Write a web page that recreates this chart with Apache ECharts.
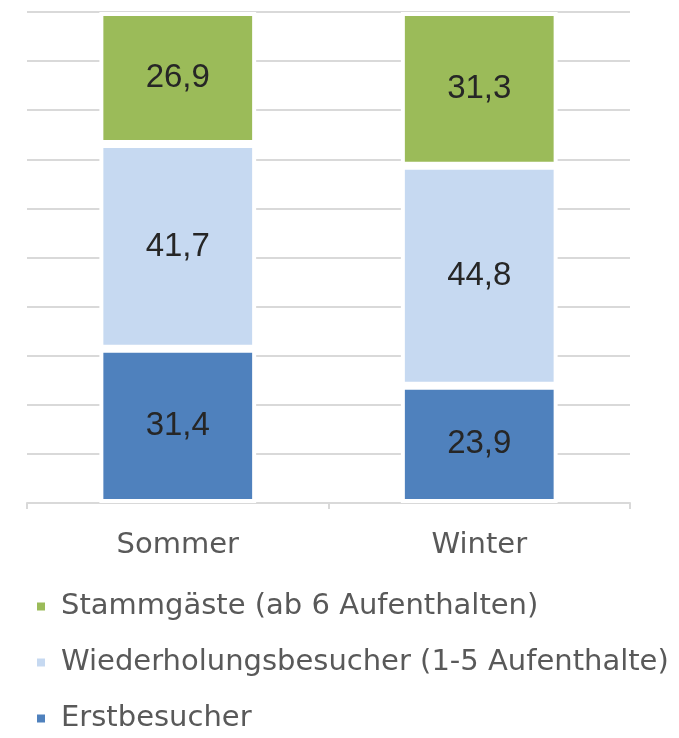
<!DOCTYPE html>
<html>
<head>
<meta charset="utf-8">
<script src="https://cdn.jsdelivr.net/npm/echarts@6/dist/echarts.min.js"></script>
<style>html,body{margin:0;padding:0;background:#fff;}#c{width:679px;height:738px;}</style>
</head>
<body>
<div id="c"></div>
<script>
const categories = ['Sommer', 'Winter'];
const seriesNames = ['Erstbesucher', 'Wiederholungsbesucher (1-5 Aufenthalte)', 'Stammgäste (ab 6 Aufenthalten)'];
const erstbesucher = [31.4, 23.9];
const wiederholung = [41.7, 44.8];
const stammgaeste = [26.9, 31.3];
const legendOrder = ['Stammgäste (ab 6 Aufenthalten)', 'Wiederholungsbesucher (1-5 Aufenthalte)', 'Erstbesucher'];
const colors = ['#4F81BD', '#C6D9F1', '#9BBB59'];

const chart = echarts.init(document.getElementById('c'));
const values = [erstbesucher, wiederholung, stammgaeste];
const fmt = p => String(p.value.toFixed(1)).replace('.', ',');

chart.setOption({
  animation: false,
  grid: { left: 27, right: 49, top: 12, bottom: 235 },
  xAxis: {
    type: 'category',
    data: categories,
    axisLine: { lineStyle: { color: '#d9d9d9', width: 2 } },
    axisTick: { show: true, length: 6, lineStyle: { color: '#d9d9d9', width: 2 } },
    axisLabel: { color: '#595959', fontSize: 29, fontFamily: 'DejaVu Sans', margin: 28 }
  },
  yAxis: {
    type: 'value', min: 0, max: 100, interval: 10,
    axisLabel: { show: false },
    axisLine: { show: false },
    axisTick: { show: false },
    splitLine: { lineStyle: { color: '#d9d9d9', width: 2 } }
  },
  legend: {
    orient: 'vertical',
    left: 35,
    top: 592,
    padding: 0,
    itemGap: 27,
    itemWidth: 10,
    itemHeight: 10,
    icon: 'rect',
    data: legendOrder,
    textStyle: { color: '#595959', fontSize: 29, fontFamily: 'DejaVu Sans', padding: [0, 0, 0, 10] }
  },
  series: seriesNames.map((name, i) => ({
    name: name,
    type: 'bar',
    stack: 'total',
    barWidth: '52%',
    data: values[i],
    itemStyle: { color: colors[i], borderColor: '#ffffff', borderWidth: 4 },
    label: {
      show: true,
      position: 'inside',
      formatter: fmt,
      color: '#262626',
      fontSize: 33,
      fontFamily: 'Liberation Sans'
    }
  }))
});
</script>
</body>
</html>
